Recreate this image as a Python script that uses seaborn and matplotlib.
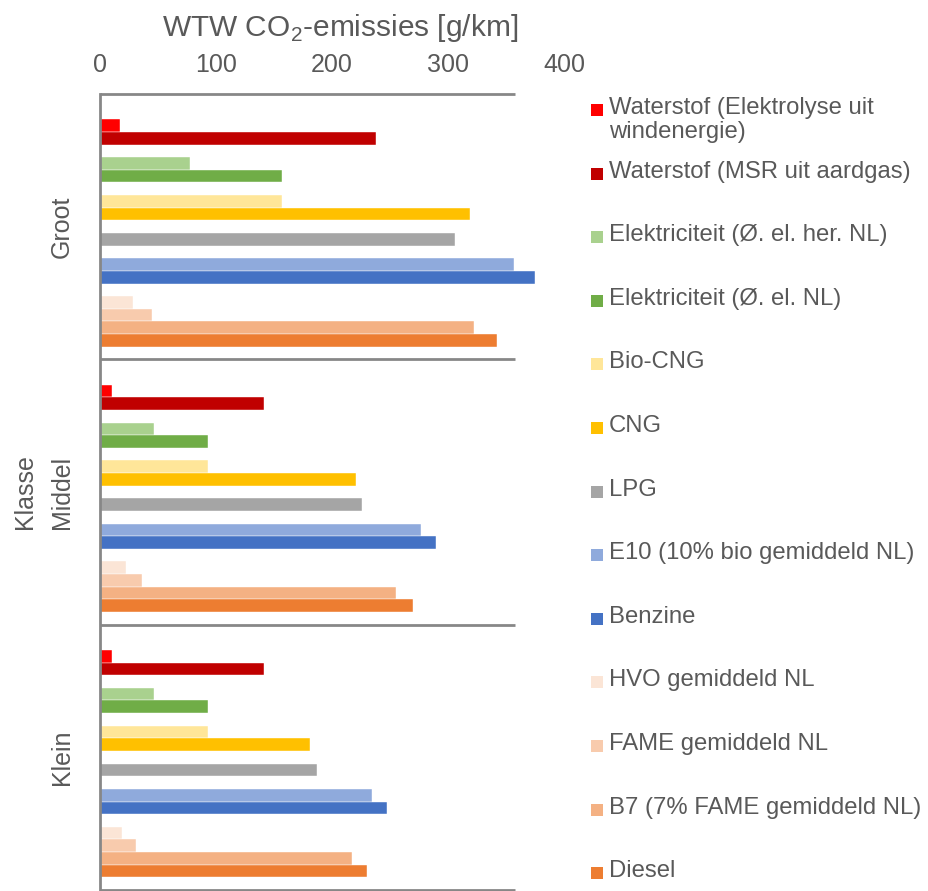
import pandas as pd
import matplotlib
matplotlib.use('Agg')
import matplotlib.pyplot as plt
import matplotlib.transforms as mtransforms
from matplotlib.patches import Rectangle
import seaborn as sns

sns.set_style('white')
plt.rcParams['font.family'] = ['Liberation Sans', 'DejaVu Sans']
plt.rcParams['mathtext.fontset'] = 'custom'
plt.rcParams['mathtext.rm'] = 'Liberation Sans'

# data
klassen = ['Groot', 'Middel', 'Klein']
brandstoffen = ['Waterstof (Elektrolyse uit\nwindenergie)',
                'Waterstof (MSR uit aardgas)',
                'Elektriciteit (Ø. el. her. NL)',
                'Elektriciteit (Ø. el. NL)',
                'Bio-CNG',
                'CNG',
                'LPG',
                'E10 (10% bio gemiddeld NL)',
                'Benzine',
                'HVO gemiddeld NL',
                'FAME gemiddeld NL',
                'B7 (7% FAME gemiddeld NL)',
                'Diesel']
groot = [17, 238, 77, 157, 157, 319, 306, 357, 375, 28, 45, 322, 342]
middel = [10, 141, 46, 93, 93, 221, 226, 277, 290, 22, 36, 255, 270]
klein = [10, 141, 46, 93, 93, 181, 187, 234, 247, 19, 31, 217, 230]
xticks = [0, 100, 200, 300, 400]

kleuren = ['#FF0000', '#C00000', '#A9D18E', '#70AD47', '#FFE699', '#FFC000',
           '#A5A5A5', '#8FAADC', '#4472C4', '#FBE5D6', '#F8CBAD', '#F4B183',
           '#ED7D31']
grijs = '#595959'
lijn = '#878787'

# layout: slot of each fuel inside a block of 21 rows
slot = [2, 3, 5, 6, 8, 9, 11, 13, 14, 16, 17, 18, 19]
blok = 21

rows = []
for k, waarden in enumerate([groot, middel, klein]):
    for i, b in enumerate(brandstoffen):
        rows.append({'klasse': klassen[k], 'brandstof': b, 'waarde': waarden[i],
                     'pos': blok * k + slot[i] + 0.5})
df = pd.DataFrame(rows)

fig = plt.figure(figsize=(9.29, 8.91), dpi=100)
ax = fig.add_axes([100.3 / 929, 1 - 890 / 891, (564 - 100.3) / 929, (890 - 94) / 891])

sns.barplot(data=df, x='waarde', y='pos', hue='brandstof', hue_order=brandstoffen,
            palette=kleuren, saturation=1, orient='h', native_scale=True, dodge=False,
            width=1.0, errorbar=None, legend=False, edgecolor='white', linewidth=0.3, ax=ax)

ax.set_xlim(0, 400)
ax.set_ylim(blok * 3, 0)

for s in ['top', 'right', 'bottom']:
    ax.spines[s].set_visible(False)
ax.spines['left'].set_color(lijn)
ax.spines['left'].set_linewidth(2)

ax.xaxis.tick_top()
ax.xaxis.set_label_position('top')
ax.set_xticks(xticks)
ax.tick_params(axis='x', length=0, pad=12, labelsize=18, labelcolor=grijs)
ax.set_xlabel('WTW CO$_{\\mathregular{2}}$-emissies [g/km]', fontsize=21.5, color=grijs)
ax.xaxis.set_label_coords(0.517, 1.073)

grenzen = [blok * k for k in range(4)]
ax.set_yticks(grenzen)
ax.set_yticklabels([])
ax.tick_params(axis='y', length=9, width=1.5, color=lijn, direction='out')
ax.set_ylabel('')
ax.hlines(grenzen, 0, 358, color=lijn, lw=2, clip_on=False, zorder=3)

trans = mtransforms.blended_transform_factory(ax.transAxes, ax.transData)
for k, naam in enumerate(klassen):
    ax.text(-0.083, blok * k + blok / 2, naam, transform=trans, rotation=90,
            ha='center', va='center', fontsize=18, color=grijs)
ax.text(-0.163, blok * 1.5, 'Klasse', transform=trans, rotation=90,
        ha='center', va='center', fontsize=18, color=grijs)

# legend on the right
for i, (b, c) in enumerate(zip(brandstoffen, kleuren)):
    y = 110 + 63.6 * i
    fig.add_artist(Rectangle((591 / 929, (891 - y - 6) / 891), 12 / 929, 12 / 891,
                             transform=fig.transFigure, facecolor=c, edgecolor='none'))
    fig.text(609 / 929, (891 - y + 13) / 891, b, ha='left', va='top', fontsize=17.2,
             color=grijs, linespacing=1.1)

fig.savefig('out.png', dpi=100)
